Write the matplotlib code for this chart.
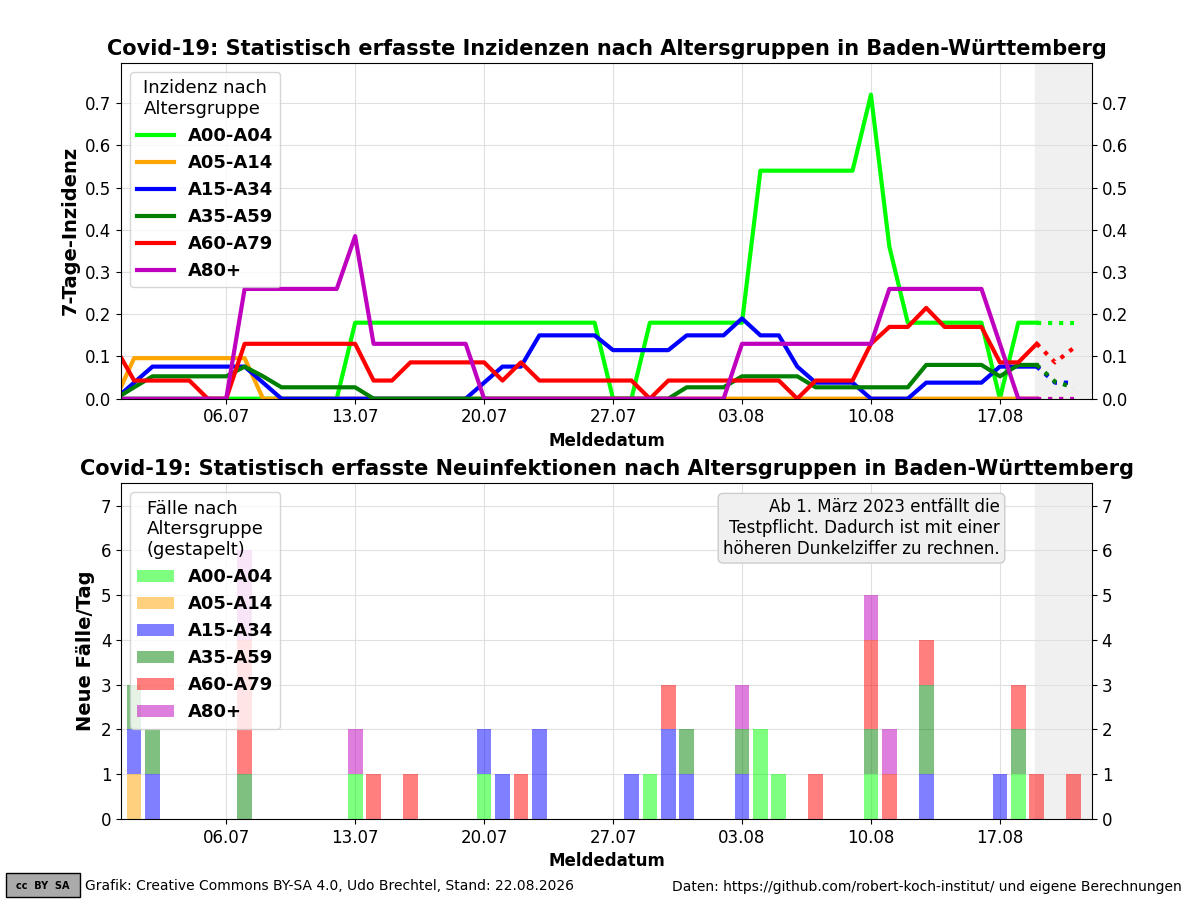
import numpy as np
import matplotlib
matplotlib.use('Agg')
import matplotlib.pyplot as plt
import matplotlib.dates as mdates
from matplotlib.patches import Rectangle

# DATA #
start = np.datetime64('2026-06-30')  # first value (day -1)
groups = ['A00-A04', 'A05-A14', 'A15-A34', 'A35-A59', 'A60-A79', 'A80+']
colors = ['lime', 'orange', 'blue', 'green', 'red', 'm']

# 7-day incidence, days -1 .. 49 (solid)
inz_a00 = [0]*13 + [0.18]*14 + [0, 0] + [0.18]*6 + [0.54]*6 + [0.72, 0.36, 0.18, 0.18, 0.18, 0.18, 0.18, 0, 0.18, 0.18]
inz_a05 = [0] + [0.096]*7 + [0]*43
inz_a15 = [0, 0.038] + [0.076]*6 + [0.038] + [0]*11 + [0.038, 0.076, 0.076] + [0.15]*4 + [0.115]*4 \
    + [0.15]*3 + [0.19, 0.15, 0.15, 0.076] + [0.038]*3 + [0]*3 + [0.038]*4 + [0.076]*3
inz_a35 = [0, 0.027] + [0.053]*5 + [0.076, 0.053] + [0.027]*5 + [0]*17 + [0.027]*3 + [0.053]*4 \
    + [0.027]*6 + [0.08]*4 + [0.053, 0.08, 0.08]
inz_a60 = [0.12, 0.043, 0.043, 0.043, 0.043, 0, 0] + [0.13]*7 + [0.043, 0.043] + [0.086]*5 \
    + [0.043, 0.086] + [0.043]*6 + [0] + [0.043]*7 + [0] + [0.043]*3 \
    + [0.13, 0.17, 0.17, 0.215, 0.17, 0.17, 0.17, 0.086, 0.086, 0.13]
inz_a80 = [0]*7 + [0.26]*6 + [0.385] + [0.13]*6 + [0]*14 + [0.13]*8 + [0.26]*6 + [0.13, 0, 0]
incid = [inz_a00, inz_a05, inz_a15, inz_a35, inz_a60, inz_a80]

# provisional values, days 49 .. 51 (dotted)
prov = [[0.18, 0.18, 0.18], [0, 0, 0], [0.076, 0.038, 0.038],
        [0.08, 0.04, 0.027], [0.13, 0.086, 0.12], [0, 0, 0]]

# new cases per day, days 0 .. 51 (index = day)
n_days = 52
def cases(d):
    a = np.zeros(n_days)
    for k, v in d.items():
        a[k] = v
    return a

case_a00 = cases({12: 1, 19: 1, 28: 1, 34: 2, 35: 1, 40: 1, 48: 1})
case_a05 = cases({0: 1})
case_a15 = cases({0: 1, 1: 1, 19: 1, 20: 1, 22: 2, 27: 1, 29: 2, 30: 1, 33: 1, 43: 1, 47: 1})
case_a35 = cases({0: 1, 1: 1, 6: 1, 30: 1, 33: 1, 40: 1, 43: 2, 48: 1})
case_a60 = cases({6: 3, 13: 1, 15: 1, 21: 1, 29: 1, 37: 1, 40: 2, 41: 1, 43: 1, 48: 1, 49: 1, 51: 1})
case_a80 = cases({6: 2, 12: 1, 33: 1, 40: 1, 41: 1})
case_list = [case_a00, case_a05, case_a15, case_a35, case_a60, case_a80]

# PLOT #
d0 = mdates.date2num(start)
x_inz = d0 + np.arange(len(inz_a00))
x_prov = d0 + 1 + np.array([49, 50, 51])
x_bar = d0 + 1 + np.arange(n_days)
xlim = (d0 + 1 - 0.7, d0 + 1 + 52)
shade = d0 + 1 + 48.9

fig = plt.figure(figsize=(12, 9), dpi=100)
ax1 = fig.add_axes([0.101, 0.557, 0.809, 0.373])
ax2 = fig.add_axes([0.101, 0.09, 0.809, 0.373])

for vals, pv, c, g in zip(incid, prov, colors, groups):
    ax1.plot(x_inz, vals, color=c, lw=3, label=g)
    ax1.plot(x_prov, pv, color=c, lw=3, ls=':')
ax1.set_ylim(0, 0.795)
ax1.set_ylabel('7-Tage-Inzidenz', fontsize=14, fontweight='bold')
ax1.set_title('Covid-19: Statistisch erfasste Inzidenzen nach Altersgruppen in Baden-Württemberg',
              fontsize=15, fontweight='bold')
ax1.legend(title='Inzidenz nach\nAltersgruppe', loc='upper left', fontsize=13,
           title_fontsize=13, prop={'weight': 'bold', 'size': 13})

bottom = np.zeros(n_days)
for vals, c, g in zip(case_list, colors, groups):
    ax2.bar(x_bar, vals, bottom=bottom, width=0.8, color=c, alpha=0.5, label=g)
    bottom += vals
ax2.set_ylim(0, 7.5)
ax2.set_ylabel('Neue Fälle/Tag', fontsize=14, fontweight='bold')
ax2.set_title('Covid-19: Statistisch erfasste Neuinfektionen nach Altersgruppen in Baden-Württemberg',
              fontsize=15, fontweight='bold')
ax2.legend(title='Fälle nach\nAltersgruppe\n(gestapelt)', loc='upper left',
           title_fontsize=13, prop={'weight': 'bold', 'size': 13})
ax2.text(0.905, 0.955, 'Ab 1. März 2023 entfällt die\nTestpflicht. Dadurch ist mit einer\nhöheren Dunkelziffer zu rechnen.',
         transform=ax2.transAxes, ha='right', va='top', fontsize=12,
         bbox=dict(boxstyle='round', facecolor='#f0f0f0', edgecolor='#cccccc'))

ticks = d0 + 1 + np.arange(5, 52, 7)
for ax in (ax1, ax2):
    ax.axvspan(shade, xlim[1], color='#f0f0f0', zorder=0)
    ax.set_xlim(*xlim)
    ax.set_xticks(ticks)
    ax.xaxis.set_major_formatter(mdates.DateFormatter('%d.%m'))
    ax.set_xlabel('Meldedatum', fontsize=12, fontweight='bold')
    ax.grid(True, color='#e0e0e0')
    ax.set_axisbelow(True)
    ax.tick_params(labelsize=12, right=True, labelright=True)

# footer
fig.add_artist(Rectangle((0.005, 0.003), 0.062, 0.027, transform=fig.transFigure,
                         facecolor='#aaaaaa', edgecolor='black', lw=1))
fig.text(0.036, 0.016, 'cc  BY  SA', ha='center', va='center', fontsize=7, fontweight='bold')
fig.text(0.071, 0.015, 'Grafik: Creative Commons BY-SA 4.0, Udo Brechtel, Stand: 22.08.2026',
         fontsize=10, va='center')
fig.text(0.985, 0.015, 'Daten: https://github.com/robert-koch-institut/ und eigene Berechnungen',
         fontsize=10, va='center', ha='right')

fig.savefig('out.png', dpi=100)
